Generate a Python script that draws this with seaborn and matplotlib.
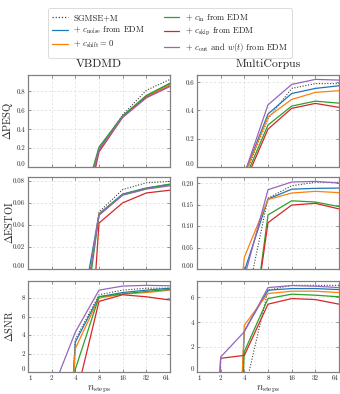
import matplotlib
matplotlib.use("Agg")
import matplotlib.pyplot as plt
from matplotlib.lines import Line2D
from matplotlib.ticker import FormatStrFormatter
import numpy as np
import pandas as pd
import seaborn as sns

# ---------------- data ----------------
n_steps = [1, 2, 4, 8, 16, 32, 64]
methods = ["sgmse", "noise", "shift", "in", "skip", "out"]
method_labels = [
    "SGMSE+M",
    r"+ $c_\mathrm{noise}$ from EDM",
    r"+ $c_\mathrm{shift} = 0$",
    r"+ $c_\mathrm{in}$ from EDM",
    r"+ $c_\mathrm{skip}$ from EDM",
    r"+ $c_\mathrm{out}$ and $w(t)$ from EDM",
]
datasets = ["VBDMD", "MultiCorpus"]
metrics = ["PESQ", "ESTOI", "SNR"]

pesq_vbdmd = {
    "sgmse": [-1.6, -1.3, -0.78, 0.19, 0.55, 0.81, 0.925],
    "noise": [-1.6, -1.3, -0.76, 0.19, 0.535, 0.75, 0.88],
    "shift": [-1.6, -1.3, -0.78, 0.18, 0.53, 0.745, 0.87],
    "in":    [-1.5, -1.2, -0.66, 0.21, 0.54, 0.755, 0.885],
    "skip":  [-1.7, -1.4, -0.98, 0.16, 0.525, 0.735, 0.855],
    "out":   [-1.6, -1.3, -0.80, 0.18, 0.525, 0.73, 0.85],
}
pesq_multi = {
    "sgmse": [-1.2, -0.9, -0.07, 0.34, 0.556, 0.59, 0.59],
    "noise": [-1.2, -0.9, -0.05, 0.375, 0.52, 0.556, 0.575],
    "shift": [-1.2, -0.9, -0.058, 0.355, 0.478, 0.528, 0.54],
    "in":    [-1.2, -0.9, -0.094, 0.297, 0.431, 0.466, 0.452],
    "skip":  [-1.2, -0.9, -0.12, 0.268, 0.415, 0.45, 0.422],
    "out":   [-1.2, -0.9, -0.05, 0.44, 0.584, 0.62, 0.615],
}
estoi_vbdmd = {
    "sgmse": [-0.6, -0.5, -0.10, 0.0517, 0.0721, 0.0782, 0.0795],
    "noise": [-0.6, -0.5, -0.072, 0.0500, 0.0680, 0.0735, 0.0770],
    "shift": [-0.6, -0.5, -0.09, 0.0495, 0.0672, 0.0728, 0.0762],
    "in":    [-0.6, -0.5, -0.11, 0.0492, 0.0676, 0.0732, 0.0768],
    "skip":  [-0.6, -0.5, -0.28, 0.0417, 0.0600, 0.0690, 0.0715],
    "out":   [-0.6, -0.5, -0.09, 0.0488, 0.0670, 0.0725, 0.0755],
}
estoi_multi = {
    "sgmse": [-0.6, -0.5, -0.10, 0.165, 0.194, 0.202, 0.202],
    "noise": [-0.6, -0.5, -0.005, 0.163, 0.186, 0.188, 0.1886],
    "shift": [-0.6, -0.5, 0.0275, 0.162, 0.177, 0.181, 0.178],
    "in":    [-0.6, -0.5, -0.29, 0.126, 0.159, 0.156, 0.1455],
    "skip":  [-0.6, -0.5, -0.28, 0.108, 0.149, 0.153, 0.140],
    "out":   [-0.6, -0.5, -0.02, 0.1847, 0.2027, 0.2042, 0.2003],
}
snr_vbdmd = {
    "sgmse": [-45, -40, 3.5, 8.36, 8.86, 9.07, 9.07],
    "noise": [-45, -40, 3.25, 8.14, 8.60, 8.86, 9.07],
    "shift": [-45, -40, 2.54, 8.00, 8.43, 8.60, 8.86],
    "in":    [-45, -40, 0.30, 8.14, 8.45, 8.72, 8.94],
    "skip":  [-45, -40, -2.97, 7.64, 8.36, 8.14, 7.79],
    "out":   [-40, -2.2, 4.32, 8.86, 9.30, 9.38, 9.33],
}
snr_multi = {
    "sgmse": [-45, -40, -1.6, 6.56, 6.95, 6.95, 6.95],
    "noise": [-45, -40, 3.30, 6.56, 6.69, 6.69, 6.61],
    "shift": [-45, -40, 3.76, 6.29, 6.48, 6.48, 6.37],
    "in":    [-45, -40, 1.63, 5.89, 6.24, 6.16, 6.03],
    "skip":  [-40, 1.10, 1.33, 5.44, 5.89, 5.81, 5.44],
    "out":   [-40, 1.20, 3.23, 6.77, 6.93, 6.88, 6.77],
}
panel_data = {
    ("PESQ", "VBDMD"): pesq_vbdmd, ("PESQ", "MultiCorpus"): pesq_multi,
    ("ESTOI", "VBDMD"): estoi_vbdmd, ("ESTOI", "MultiCorpus"): estoi_multi,
    ("SNR", "VBDMD"): snr_vbdmd, ("SNR", "MultiCorpus"): snr_multi,
}
yticks = {
    ("PESQ", "VBDMD"): [0.0, 0.2, 0.4, 0.6, 0.8],
    ("PESQ", "MultiCorpus"): [0.0, 0.2, 0.4, 0.6],
    ("ESTOI", "VBDMD"): [0.00, 0.02, 0.04, 0.06, 0.08],
    ("ESTOI", "MultiCorpus"): [0.00, 0.05, 0.10, 0.15, 0.20],
    ("SNR", "VBDMD"): [0, 2, 4, 6, 8],
    ("SNR", "MultiCorpus"): [0, 2, 4, 6],
}
yfmt = {"PESQ": "%.1f", "ESTOI": "%.2f", "SNR": "%d"}

rows = []
for (metric, ds), d in panel_data.items():
    for m in methods:
        for n, v in zip(n_steps, d[m]):
            rows.append(dict(metric=metric, dataset=ds, method=m, n=n, value=v))
df = pd.DataFrame(rows)

# ---------------- style ----------------
sns.set_style("ticks")
plt.rcParams.update({
    "font.family": ["serif"],
    "font.serif": ["cmr10", "DejaVu Serif"],
    "mathtext.fontset": "cm",
    "axes.formatter.use_mathtext": True,
    "axes.unicode_minus": False,
})
palette = {"sgmse": "0.25", "noise": "#1f77b4", "shift": "#ff7f0e",
           "in": "#2ca02c", "skip": "#d62728", "out": "#9467bd"}
dashes = {"sgmse": (1.0, 1.5), "noise": "", "shift": "", "in": "", "skip": "", "out": ""}

W, H = 340, 394
fig = plt.figure(figsize=(W / 100, H / 100), dpi=100)
col_x = [28, 197]
col_w = 142
row_y = [75, 177, 281]
row_h = [92, 92, 91]

for r, metric in enumerate(metrics):
    for c, ds in enumerate(datasets):
        ax = fig.add_axes([col_x[c] / W, 1 - (row_y[r] + row_h[r]) / H,
                           col_w / W, row_h[r] / H])
        sub = df[(df.metric == metric) & (df.dataset == ds)]
        sns.lineplot(data=sub, x="n", y="value", hue="method", style="method",
                     hue_order=methods, style_order=methods,
                     palette=palette, dashes=dashes, estimator=None,
                     linewidth=0.9, legend=False, ax=ax)
        for ln in ax.lines:
            if ln.get_linestyle() not in ("-",):
                ln.set_linewidth(0.8)
        ax.set_xscale("log", base=2)
        ax.set_xlim(1, 64)
        ax.set_xticks(n_steps)
        ax.set_xticklabels([str(n) for n in n_steps])
        ymax = max(max(v) for v in panel_data[(metric, ds)].values())
        ax.set_ylim(0, 1.05 * ymax)
        ax.set_yticks(yticks[(metric, ds)])
        ax.yaxis.set_major_formatter(FormatStrFormatter(yfmt[metric]))
        ax.minorticks_off()
        ax.grid(True, which="major", linestyle=(0, (3, 3)), color="0.85", linewidth=0.5)
        for s in ax.spines.values():
            s.set_color("0.5")
            s.set_linewidth(0.9)
        ax.tick_params(direction="in", length=2, width=0.5, color="0.4",
                       labelsize=5, pad=2, top=True, right=True)
        ax.yaxis.get_major_ticks()[0].label1.set_va("bottom")
        xt = ax.xaxis.get_major_ticks()
        xt[0].label1.set_ha("left")
        xt[-1].label1.set_ha("right")
        ax.set_ylabel("")
        ax.set_xlabel("")
        if r < 2:
            ax.tick_params(labelbottom=False)
        else:
            ax.set_xlabel(r"$n_\mathrm{steps}$", fontsize=7.5, labelpad=2)
        if c == 0:
            ax.set_ylabel(r"$\Delta$" + metric, fontsize=7.5)
            ax.yaxis.set_label_coords(-0.095, 0.5)
        if r == 0:
            ax.set_title(ds, fontsize=8.5, pad=6)

handles = [Line2D([], [], color=palette[m], lw=0.9,
                  linestyle=(0, (1.0, 1.5)) if m == "sgmse" else "-")
           for m in methods]
leg = fig.legend(handles, method_labels, ncol=2, loc="upper center",
                 bbox_to_anchor=(0.5, 0.99), fontsize=6.2, frameon=True,
                 handlelength=1.8, handletextpad=0.6, columnspacing=2.2,
                 labelspacing=0.3, borderpad=0.45, fancybox=True)
leg.get_frame().set_edgecolor("0.8")
leg.get_frame().set_linewidth(0.6)

fig.savefig("out.png", dpi=100)
